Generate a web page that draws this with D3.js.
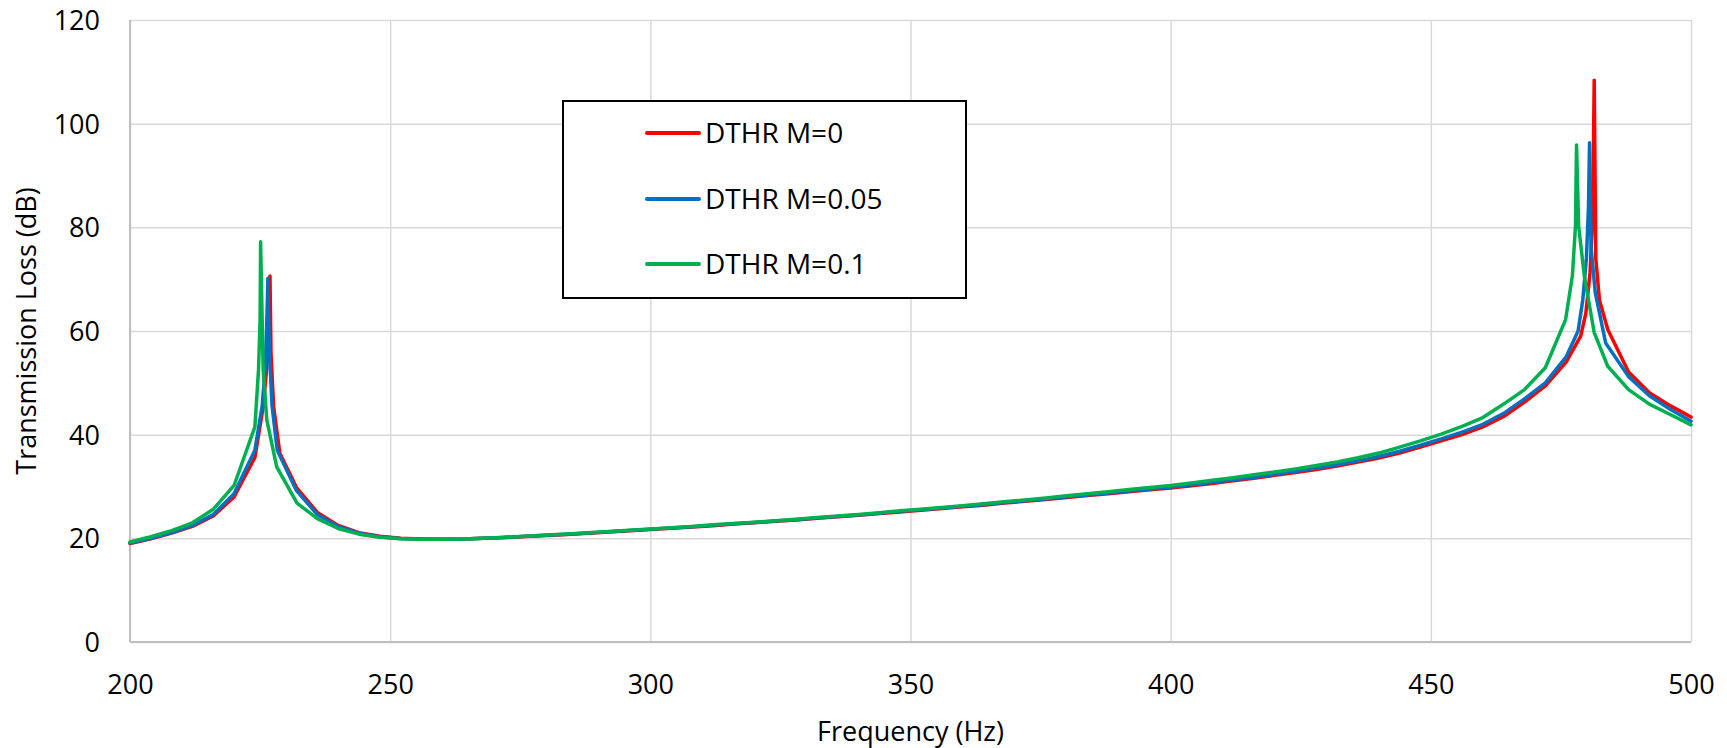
<!DOCTYPE html>
<html>
<head>
<meta charset="utf-8">
<script src="https://cdn.jsdelivr.net/npm/d3@7"></script>
<style>
  html, body { margin: 0; padding: 0; background: #fff; }
  svg { display: block; font-family: "Open Sans", "Liberation Sans", sans-serif; }
</style>
</head>
<body>
<svg id="chart" width="1727" height="748"></svg>
<script>
// ---------- data ----------
const xTicks = [200, 250, 300, 350, 400, 450, 500];
const yTicks = [0, 20, 40, 60, 80, 100, 120];
const seriesNames = ["DTHR M=0", "DTHR M=0.05", "DTHR M=0.1"];
const seriesColors = ["#FF0000", "#0070C0", "#00B050"];

const freqM0 = [200,204,208,212,216,220,224,225.6,226.3,226.6,226.9,227.1,227.6,228.8,232,236,240,244,248,252,256,260,264,268,272,276,280,284,288,292,296,300,304,308,312,316,320,324,328,332,336,340,344,348,352,356,360,364,368,372,376,380,384,388,392,396,400,404,408,412,416,420,424,428,432,436,440,444,448,452,456,460,464,468,472,476,478.8,479.8,480.6,481.1,481.4,481.7,482.4,484,488,492,496,500];
const tlM0   = [19.0,19.9,21.0,22.3,24.3,28.0,35.6,45.4,53.1,62.1,70.6,55.7,45.4,36.4,29.8,25.0,22.5,21.1,20.4,20.0,19.85,19.8,19.85,20.0,20.15,20.35,20.55,20.75,21.0,21.2,21.45,21.7,21.95,22.2,22.45,22.75,23.0,23.3,23.55,23.85,24.15,24.45,24.8,25.1,25.4,25.75,26.1,26.4,26.8,27.15,27.5,27.9,28.25,28.6,29.0,29.35,29.7,30.15,30.6,31.1,31.6,32.15,32.7,33.3,33.95,34.7,35.5,36.45,37.6,38.8,40.0,41.5,43.5,46.3,49.4,54.0,59.0,63.5,71.3,82.0,108.4,74.0,66.0,60.3,52.1,48.1,45.6,43.4];

const freqM005 = [200,204,208,212,216,220,224,225.4,226.0,226.3,226.5,226.8,227.3,228.3,232,236,240,244,248,252,256,260,264,268,272,276,280,284,288,292,296,300,304,308,312,316,320,324,328,332,336,340,344,348,352,356,360,364,368,372,376,380,384,388,392,396,400,404,408,412,416,420,424,428,432,436,440,444,448,452,456,460,464,468,472,476,478.3,479.2,479.9,480.3,480.5,480.8,481.6,483.6,488,492,496,500];
const tlM005   = [19.1,20.0,21.1,22.5,24.6,28.6,37.0,45.5,53.0,62.0,70.2,56.0,45.5,37.0,29.2,24.6,22.3,21.0,20.3,19.95,19.85,19.8,19.85,20.0,20.15,20.4,20.6,20.8,21.05,21.25,21.5,21.75,22.0,22.25,22.5,22.8,23.05,23.35,23.6,23.9,24.2,24.5,24.85,25.2,25.5,25.85,26.2,26.5,26.9,27.25,27.6,28.0,28.35,28.75,29.15,29.5,29.9,30.35,30.8,31.3,31.8,32.35,32.95,33.55,34.2,34.95,35.8,36.8,37.95,39.2,40.5,42.0,44.1,46.9,50.0,55.0,60.0,66.0,74.0,84.0,96.3,76.0,67.4,57.7,51.2,47.5,44.9,42.6];

const freqM01 = [200,204,208,212,216,220,224,224.7,225.0,225.1,225.4,225.6,226.3,228.2,232.1,236,240,244,248,252,256,260,264,268,272,276,280,284,288,292,296,300,304,308,312,316,320,324,328,332,336,340,344,348,352,356,360,364,368,372,376,380,384,388,392,396,400,404,408,412,416,420,424,428,432,436,440,444,448,452,456,460,464,468,472,475.9,477.2,477.8,478.0,478.4,479.5,481.4,484,488,492,496,500];
const tlM01   = [19.3,20.3,21.5,23.0,25.6,30.2,41.5,52.5,62.1,77.2,62.1,52.5,42.8,33.8,26.8,23.8,21.9,20.8,20.2,19.9,19.8,19.8,19.85,20.0,20.2,20.4,20.65,20.85,21.1,21.3,21.55,21.8,22.05,22.3,22.6,22.85,23.1,23.4,23.7,24.0,24.3,24.6,24.95,25.3,25.6,25.95,26.3,26.65,27.05,27.4,27.8,28.2,28.6,29.0,29.4,29.8,30.2,30.7,31.2,31.7,32.25,32.8,33.4,34.05,34.75,35.55,36.45,37.6,38.8,40.1,41.6,43.3,45.9,48.7,52.9,62.2,70.6,80.3,95.9,80.3,70.6,59.7,53.2,48.7,45.9,43.9,41.9];

const seriesFreq = [freqM0, freqM005, freqM01];
const seriesTL = [tlM0, tlM005, tlM01];

// ---------- layout ----------
const svg = d3.select("#chart");
const mLeft = 130, mRight = 1691, mTop = 20, mBottom = 642;

const x = d3.scaleLinear().domain([200, 500]).range([mLeft, mRight]);
const y = d3.scaleLinear().domain([0, 120]).range([mBottom, mTop]);

// gridlines
const gy = svg.append("g").attr("transform", `translate(${mLeft},0)`)
  .call(d3.axisLeft(y).tickValues(yTicks).tickSize(-(mRight - mLeft)).tickFormat(""));
gy.select(".domain").remove();
gy.selectAll("line").attr("stroke", "#D9D9D9").attr("stroke-width", 1.5);

const gx = svg.append("g").attr("transform", `translate(0,${mBottom})`)
  .call(d3.axisBottom(x).tickValues(xTicks).tickSize(-(mBottom - mTop)).tickFormat(""));
gx.select(".domain").remove();
gx.selectAll("line").attr("stroke", "#D9D9D9").attr("stroke-width", 1.5);

// axis lines
svg.append("line").attr("x1", mLeft).attr("x2", mLeft).attr("y1", mTop).attr("y2", mBottom)
  .attr("stroke", "#BFBFBF").attr("stroke-width", 2);
svg.append("line").attr("x1", mLeft).attr("x2", mRight).attr("y1", mBottom).attr("y2", mBottom)
  .attr("stroke", "#BFBFBF").attr("stroke-width", 2);

// tick labels
const ly = svg.append("g").attr("transform", `translate(${mLeft},0)`)
  .call(d3.axisLeft(y).tickValues(yTicks).tickSize(0).tickPadding(30));
ly.select(".domain").remove();
ly.selectAll("text").attr("font-size", 27).attr("fill", "#000")
  .attr("font-family", "'Open Sans', sans-serif").attr("dy", "0.35em");

const lx = svg.append("g").attr("transform", `translate(0,${mBottom})`)
  .call(d3.axisBottom(x).tickValues(xTicks).tickSize(0));
lx.select(".domain").remove();
lx.selectAll("text").attr("font-size", 27).attr("fill", "#000")
  .attr("font-family", "'Open Sans', sans-serif").attr("y", 52).attr("dy", 0);

// axis titles
svg.append("text").attr("x", (mLeft + mRight) / 2).attr("y", 741)
  .attr("text-anchor", "middle").attr("font-size", 27).attr("fill", "#000")
  .text("Frequency (Hz)");
svg.append("text").attr("transform", `translate(36,${(mTop + mBottom) / 2}) rotate(-90)`)
  .attr("text-anchor", "middle").attr("font-size", 27).attr("fill", "#000")
  .text("Transmission Loss (dB)");

// series
const line = d3.line().x(d => x(d[0])).y(d => y(d[1]));
seriesFreq.forEach((fr, i) => {
  const pts = fr.map((f, j) => [f, seriesTL[i][j]]);
  svg.append("path").datum(pts).attr("d", line)
    .attr("fill", "none").attr("stroke", seriesColors[i])
    .attr("stroke-width", 3.5).attr("stroke-linejoin", "round").attr("stroke-linecap", "round");
});

// legend
const lg = svg.append("g");
lg.append("rect").attr("x", 563).attr("y", 101).attr("width", 403).attr("height", 197)
  .attr("fill", "#fff").attr("stroke", "#000").attr("stroke-width", 2);
const rowsY = [133, 199, 264];
seriesNames.forEach((n, i) => {
  lg.append("line").attr("x1", 647).attr("x2", 699).attr("y1", rowsY[i]).attr("y2", rowsY[i])
    .attr("stroke", seriesColors[i]).attr("stroke-width", 4).attr("stroke-linecap", "round");
  lg.append("text").attr("x", 705).attr("y", rowsY[i] + 9.5)
    .attr("font-size", 28).attr("fill", "#000").text(n);
});
</script>
</body>
</html>
